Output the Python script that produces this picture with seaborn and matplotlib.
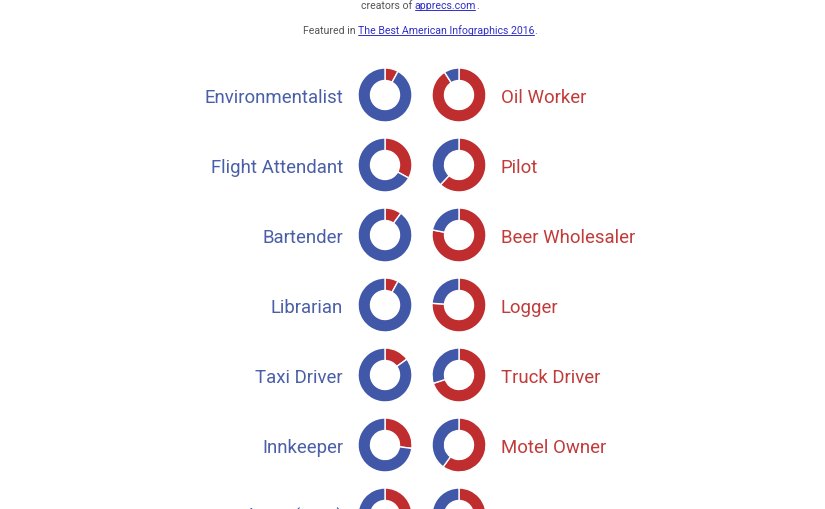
import matplotlib
matplotlib.use("Agg")
import matplotlib.pyplot as plt
import seaborn as sns

# occupation pairs (left leans blue, right leans red)
left_jobs = ["Environmentalist", "Flight Attendant", "Bartender", "Librarian",
             "Taxi Driver", "Innkeeper", "Clergy (UCC)"]
right_jobs = ["Oil Worker", "Pilot", "Beer Wholesaler", "Logger",
              "Truck Driver", "Motel Owner", "Clergyman"]
# percent red (republican) share
left_red = [8, 33, 10, 8, 15, 27, 45]
right_red = [91, 62, 78, 76, 70, 60, 55]

sns.set_theme(style="white")
plt.rcParams['font.family'] = ['Roboto', 'DejaVu Sans']

blue, red = sns.color_palette(["#4157A7", "#BF2D2F"])
blue_txt, red_txt = "#4A5FA8", "#C23B3B"
grey, link = "#555555", "#2F2FC8"

W, H = 825, 510
fig = plt.figure(figsize=(W / 100, H / 100), dpi=100)
fig.patch.set_facecolor("white")
ax = fig.add_axes([0, 0, 1, 1])


def donut(cx, cy, red_share):
    ax.pie([red_share, 100 - red_share], colors=[red, blue], startangle=90,
           counterclock=False, center=(cx, H - cy), radius=27, frame=True,
           wedgeprops=dict(width=12.5, edgecolor="white", linewidth=1))


for i in range(len(left_jobs)):
    y = 96 + 70 * i
    donut(385, y, left_red[i])
    donut(459, y, right_red[i])
    ax.text(343, H - y - 7, left_jobs[i], ha="right", va="baseline",
            color=blue_txt, fontsize=13.4)
    ax.text(501, H - y - 7, right_jobs[i], ha="left", va="baseline",
            color=red_txt, fontsize=13.4)

ax.set_xlim(0, W)
ax.set_ylim(0, H)
ax.set_aspect("equal")
ax.axis("off")


# header lines with underlined links
def runs_line(runs, cx, base, size):
    fig.canvas.draw()
    rend = fig.canvas.get_renderer()
    items = []
    for s, is_link in runs:
        t = ax.text(0, H - base, s, fontsize=size, va="baseline",
                    color=link if is_link else grey)
        w = t.get_window_extent(renderer=rend).width
        items.append((t, w, is_link))
    total = sum(w for _, w, _ in items)
    x = cx - total / 2
    for t, w, is_link in items:
        t.set_x(x)
        if is_link:
            ax.plot([x, x + w - 1], [H - base - 1.5, H - base - 1.5],
                    color=link, lw=0.7)
        x += w


runs_line([("creators of ", False), ("apprecs.com", True), (".", False)],
          420, 9, 7.6)
runs_line([("Featured in ", False),
           ("The Best American Infographics 2016", True), (".", False)],
          420, 34.5, 7.6)

fig.savefig("out.png", dpi=100, facecolor="white")
